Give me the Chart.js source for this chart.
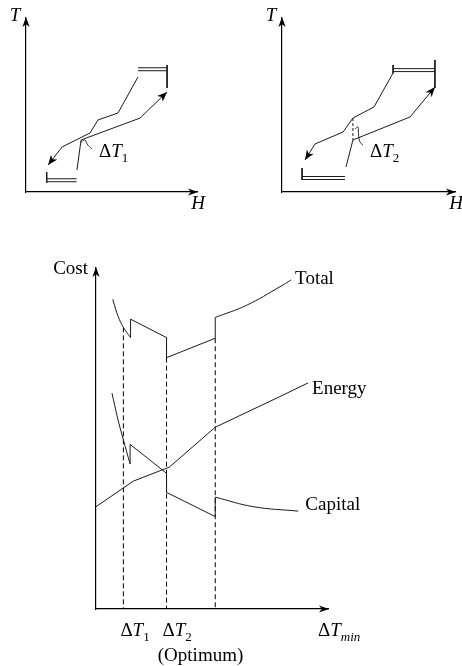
<!DOCTYPE html>
<html>
<head>
<meta charset="utf-8">
<script src="https://cdn.jsdelivr.net/npm/chart.js@4.4.0/dist/chart.umd.min.js"></script>
<style>
  html, body { margin: 0; padding: 0; background: #fff; }
  #page { position: relative; width: 462px; height: 666px; overflow: hidden; }
  canvas { position: absolute; }
</style>
</head>
<body>
<div id="page">
  <canvas id="pinch1" width="231" height="215" style="left:0;top:0"></canvas>
  <canvas id="pinch2" width="231" height="215" style="left:231px;top:0"></canvas>
  <canvas id="costChart" width="462" height="436" style="left:0;top:230px"></canvas>
</div>
<script>
// ---- top left: composite curves at ΔT1 (H, T in relative units 0-100)
const hotCurve1 = [[65.5, 66.1], [53.8, 45.4], [42.1, 41.4], [37.4, 33.9], [21.1, 25.9], [12.9, 15.5]];
const coldCurve1 = [[29.8, 12.6], [32.2, 29.9], [66.7, 42.5], [82.5, 57.5]];
const steamH1 = [65.5, 82.5];
const steamT1 = [71.4, 69.7];
const steamEnd1 = [73.0, 59.8];
const coolH1 = [12.1, 29.6];
const coolT1 = [7.6, 5.9];
const coolEnd1 = [11.5, 5.4];
const brace1 = [[32.2, 28.7], [34.5, 29.9], [35.7, 27.6], [38.6, 24.7]];

// ---- top right: composite curves at ΔT2
const hotCurve2 = [[64.2, 68.4], [53.2, 48.9], [41.0, 42.5], [35.3, 34.5], [19.1, 27.6], [13.3, 18.4]];
const coldCurve2 = [[37.0, 14.4], [41.0, 29.9], [74.0, 43.1], [88.4, 60.3]];
const steamH2 = [64.2, 88.4];
const steamT2 = [70.9, 69.2];
const steamEnd2 = [75.9, 59.8];
const steamStart2 = [73.0, 68.2];
const coolH2 = [11.6, 36.4];
const coolT2 = [8.9, 7.2];
const coolEnd2 = [13.8, 6.9];
const gap2 = [[41.0, 42.5], [41.0, 29.9]];
const brace2 = [[42.2, 36.2], [43.9, 37.4], [44.2, 33.3], [45.1, 28.7], [46.8, 27.0]];

// ---- bottom: cost vs ΔTmin
const totalLeft = [[7.2, 90.8], [9.6, 85.7], [11.8, 82.6], [14.9, 79.6]];
const totalMid = [[14.9, 79.6], [14.9, 85.0], [30.4, 79.6], [30.4, 73.7], [51.4, 79.4], [51.4, 85.5]];
const totalRight = [[51.4, 85.5], [65.0, 89.1], [79.3, 94.5], [84.1, 96.5]];
const capitalLeft = [[6.9, 63.3], [9.3, 56.0], [11.8, 49.6], [14.7, 42.5]];
const capitalMid = [[14.7, 42.5], [14.7, 48.3], [30.4, 39.8], [30.4, 34.2], [51.4, 27.1], [51.4, 32.8]];
const capitalRight = [[51.4, 32.8], [67.8, 30.0], [87.2, 28.7]];
const energyCurve = [[0, 30.0], [16.1, 37.5], [31.6, 41.6], [51.4, 53.3], [79.3, 62.3], [91.4, 66.3]];
const dTmarks = [11.8, 30.4, 51.4];
const dTtops = [82.6, 73.7, 79.4];

const curveNames = ['Total', 'Energy', 'Capital'];
const tickSubs = ['1', '2', 'min'];
const pinchAxes = ['T', 'H'];
const costAxis = 'Cost';
const optimumNote = '(Optimum)';

const INK = '#1a1a1a';
const SERIF = '"Liberation Serif", "Times New Roman", serif';

function pts(arr) {
    return arr.map(p => ({ x: p[0], y: p[1] }));
}

function line(arr, extra) {
    return Object.assign({
        data: pts(arr),
        showLine: true,
        pointRadius: 0,
        borderColor: INK,
        borderWidth: 1,
        tension: 0,
        fill: false,
        clip: false
    }, extra || {});
}

// two parallel strokes plus an end bar
function utility(hRange, levels, barH, barRange) {
    const out = levels.map(t => line([[hRange[0], t], [hRange[1], t]]));
    out.push(line([[barH, barRange[0]], [barH, barRange[1]]]));
    return out;
}

function arrowHead(ctx, x, y, angle, len, half) {
    ctx.save();
    ctx.translate(x, y);
    ctx.rotate(angle);
    ctx.beginPath();
    ctx.moveTo(0, 0);
    ctx.lineTo(-len, -half);
    ctx.lineTo(-len * 0.72, 0);
    ctx.lineTo(-len, half);
    ctx.closePath();
    ctx.fillStyle = '#000';
    ctx.fill();
    ctx.restore();
}

function drawRich(ctx, parts, x, y, align) {
    let w = 0;
    parts.forEach(p => { ctx.font = p.font; w += ctx.measureText(p.text).width; });
    let cx = align === 'center' ? x - w / 2 : align === 'right' ? x - w : x;
    ctx.textAlign = 'left';
    ctx.textBaseline = 'alphabetic';
    ctx.fillStyle = '#000';
    parts.forEach(p => {
        ctx.font = p.font;
        ctx.fillText(p.text, cx, y + (p.dy || 0));
        cx += ctx.measureText(p.text).width;
    });
}

function deltaT(sub) {
    const subFont = (/^\d+$/.test(sub) ? '' : 'italic ') + '13px ' + SERIF;
    return [
        { text: 'Δ', font: '19px ' + SERIF },
        { text: 'T', font: 'italic 19px ' + SERIF },
        { text: sub, font: subFont, dy: 4.5 }
    ];
}

function plain(text, italic) {
    return [{ text: text, font: (italic ? 'italic ' : '') + '19px ' + SERIF }];
}

const decorations = {
    id: 'decorations',
    afterDraw(chart, args, opts) {
        const ctx = chart.ctx;
        const a = chart.chartArea;
        // axis arrows
        arrowHead(ctx, a.left, a.top - 1, -Math.PI / 2, 10, 3.6);
        arrowHead(ctx, a.right + 1, a.bottom, 0, 10, 3.6);
        // arrowheads on flagged curves
        chart.data.datasets.forEach((ds, i) => {
            if (!ds.arrowEnd) return;
            const el = chart.getDatasetMeta(i).data;
            const p1 = el[el.length - 2], p2 = el[el.length - 1];
            arrowHead(ctx, p2.x, p2.y, Math.atan2(p2.y - p1.y, p2.x - p1.x), 10, 4);
        });
        if (opts.labels) opts.labels(chart, ctx);
    }
};

function makeChart(id, padding, datasets, labels) {
    const axis = {
        type: 'linear', min: 0, max: 100,
        ticks: { display: false },
        grid: { display: false, drawTicks: false },
        border: { display: true, color: '#000', width: 1.2 }
    };
    return new Chart(document.getElementById(id), {
        type: 'scatter',
        data: { datasets: datasets },
        options: {
            responsive: false,
            animation: false,
            events: [],
            layout: { padding: padding },
            plugins: {
                legend: { display: false },
                tooltip: { enabled: false },
                decorations: { labels: labels }
            },
            scales: { x: Object.assign({}, axis), y: Object.assign({}, axis) }
        },
        plugins: [decorations]
    });
}

function pinchLabels(brace, sub, dx, dy) {
    return function (chart, ctx) {
        const a = chart.chartArea;
        const xs = chart.scales.x, ys = chart.scales.y;
        drawRich(ctx, plain(pinchAxes[0], true), a.left - 11, a.top + 3, 'center');
        drawRich(ctx, plain(pinchAxes[1], true), a.right + 1, a.bottom + 17, 'center');
        const end = brace[brace.length - 1];
        drawRich(ctx, deltaT(sub), xs.getPixelForValue(end[0]) + dx, ys.getPixelForValue(end[1]) + dy, 'left');
    };
}

// ---- top left
makeChart('pinch1', { left: 26, top: 18, right: 34, bottom: 23 }, [
    line(hotCurve1, { arrowEnd: true }),
    line(coldCurve1, { arrowEnd: true }),
    ...utility(steamH1, steamT1, steamH1[1], steamEnd1),
    ...utility(coolH1, coolT1, coolH1[0], coolEnd1),
    line(brace1, { tension: 0.4, borderWidth: 0.9 })
], pinchLabels(brace1, tickSubs[0], 7, 8));

// ---- top right
makeChart('pinch2', { left: 51, top: 18, right: 7, bottom: 23 }, [
    line(hotCurve2, { arrowEnd: true }),
    line(coldCurve2, { arrowEnd: true }),
    ...utility(steamH2, steamT2, steamH2[1], steamEnd2),
    line([[steamH2[0], steamStart2[0]], [steamH2[0], steamStart2[1]]]),
    ...utility(coolH2, coolT2, coolH2[0], coolEnd2),
    line(gap2, { borderDash: [3, 2] }),
    line(brace2, { tension: 0.4, borderWidth: 0.9 })
], pinchLabels(brace2, tickSubs[1], 7, 12));

// ---- bottom cost chart
const costSets = [
    line(totalLeft, { tension: 0.4 }),
    line(totalMid),
    line(totalRight, { tension: 0.4 }),
    line(capitalLeft, { tension: 0.4 }),
    line(capitalMid),
    line(capitalRight, { tension: 0.4 }),
    line(energyCurve)
];
dTmarks.forEach((x, i) => {
    costSets.push(line([[x, dTtops[i]], [x, 0]], { borderDash: [5, 3], borderColor: '#000' }));
});

makeChart('costChart', { left: 96, top: 38, right: 134, bottom: 57 }, costSets, function (chart, ctx) {
    const a = chart.chartArea;
    const xs = chart.scales.x, ys = chart.scales.y;
    const px = p => xs.getPixelForValue(p[0]);
    const py = p => ys.getPixelForValue(p[1]);
    const ends = [totalRight[totalRight.length - 1], energyCurve[energyCurve.length - 1], capitalRight[capitalRight.length - 1]];
    const offs = [[4, 4], [4, 11], [7, -1]];
    curveNames.forEach((name, i) => {
        drawRich(ctx, plain(name), px(ends[i]) + offs[i][0], py(ends[i]) + offs[i][1], 'left');
    });
    drawRich(ctx, plain(costAxis), a.left - 8, a.top + 6, 'right');
    drawRich(ctx, deltaT(tickSubs[0]), xs.getPixelForValue(dTmarks[0]) - 3, a.bottom + 27, 'left');
    drawRich(ctx, deltaT(tickSubs[1]), xs.getPixelForValue(dTmarks[1]) - 4, a.bottom + 27, 'left');
    drawRich(ctx, deltaT(tickSubs[2]), a.right - 10, a.bottom + 27, 'left');
    drawRich(ctx, plain(optimumNote), xs.getPixelForValue(dTmarks[1]) + 34, a.bottom + 52, 'center');
});
</script>
</body>
</html>
